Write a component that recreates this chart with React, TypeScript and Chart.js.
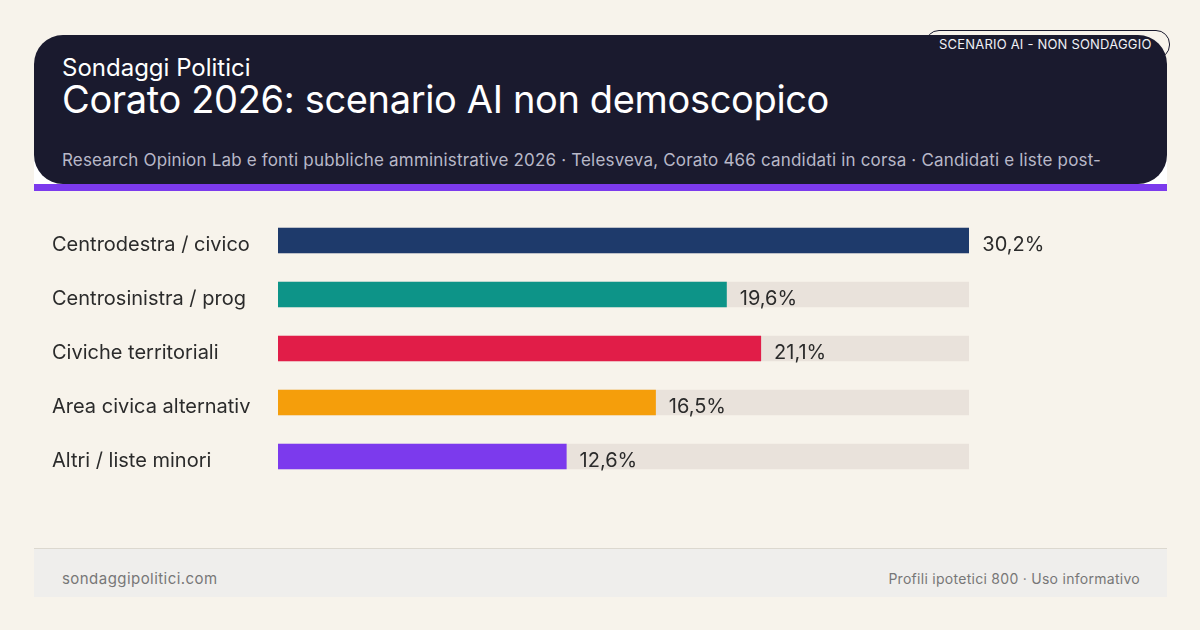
import { useEffect, useRef } from 'react';
import { Chart, registerables } from 'chart.js';
import type { CSSProperties } from 'react';

Chart.register(...registerables);

const categories = ['Centrodestra / civico', 'Centrosinistra / prog', 'Civiche territoriali', 'Area civica alternativ', 'Altri / liste minori'];
const values = [30.2, 19.6, 21.1, 16.5, 12.6];
const trackValues = [30.2, 30.2, 30.2, 30.2, 30.2];
const barColors = ['#1e3a6b', '#0d9488', '#e11d48', '#f59e0b', '#7c3aed'];

const FONT = 'Inter, sans-serif';

const text = (left: number, top: number, size: number, color: string, spacing = 0): CSSProperties => ({
  position: 'absolute',
  left,
  top,
  fontSize: size,
  lineHeight: 1,
  color,
  letterSpacing: spacing,
  whiteSpace: 'nowrap',
});

// value labels sit right after the end of each bar
const valueLabels = {
  id: 'valueLabels',
  afterDatasetsDraw(chart: Chart) {
    const { ctx } = chart;
    const meta = chart.getDatasetMeta(1);
    ctx.save();
    ctx.font = `20px ${FONT}`;
    ctx.fillStyle = '#2b2b2b';
    ctx.textAlign = 'left';
    ctx.textBaseline = 'middle';
    meta.data.forEach((bar, i) => {
      ctx.fillText(values[i].toFixed(1).replace('.', ',') + '%', bar.x + 13.3, bar.y + 4.5);
    });
    ctx.restore();
  },
};

export default function App() {
  const canvasRef = useRef<HTMLCanvasElement>(null);

  useEffect(() => {
    if (!canvasRef.current) return;
    const chart = new Chart(canvasRef.current, {
      type: 'bar',
      data: {
        labels: categories,
        datasets: [
          { data: trackValues, backgroundColor: '#e9e2db', order: 2 },
          { data: values, backgroundColor: barColors, order: 1 },
        ],
      },
      options: {
        indexAxis: 'y',
        responsive: false,
        animation: false,
        layout: { padding: { top: 213.5, bottom: 146.5, right: 231, left: 52 } },
        plugins: { legend: { display: false }, tooltip: { enabled: false } },
        datasets: { bar: { grouped: false, barThickness: 25 } },
        scales: {
          x: { display: false, min: 0, max: 30.2 },
          y: {
            afterFit(scale) {
              scale.width = 226;
            },
            border: { display: false },
            grid: { display: false },
            ticks: {
              crossAlign: 'far',
              align: 'center',
              padding: 0,
              labelOffset: 4.5,
              color: '#2b2b2b',
              font: { family: FONT, size: 20 },
            },
          },
        },
      },
      plugins: [valueLabels],
    });
    return () => chart.destroy();
  }, []);

  return (
    <div style={{ position: 'fixed', inset: 0, width: 1200, height: 630, background: '#f7f3eb', fontFamily: FONT, overflow: 'hidden' }}>
      <div style={{ position: 'absolute', left: 34, top: 130, width: 1133, height: 54, background: '#ffffff' }} />
      <div style={{ position: 'absolute', left: 34, top: 35, width: 1133, height: 149, background: '#1a1a2e', borderRadius: 29 }} />
      <div style={{ position: 'absolute', left: 34, top: 184, width: 1133, height: 7, background: '#7c3aed' }} />
      <div style={{ position: 'absolute', left: 925, top: 30, width: 245, height: 29, boxSizing: 'border-box', border: '1px solid #1a1a2e', borderRadius: 14 }} />
      <div style={text(939, 38, 13, '#f0f0f5', 0.2)}>SCENARIO AI - NON SONDAGGIO</div>
      <div style={text(62, 56, 24, '#ffffff')}>Sondaggi Politici</div>
      <div style={text(62, 80, 38, '#ffffff', -0.35)}>Corato 2026: scenario AI non demoscopico</div>
      <div style={text(62, 152, 17, '#b8b8c8', 0.18)}>Research Opinion Lab e fonti pubbliche amministrative 2026 · Telesveva, Corato 466 candidati in corsa · Candidati e liste post-</div>
      <canvas ref={canvasRef} width={1200} height={630} style={{ position: 'absolute', left: 0, top: 0, width: 1200, height: 630 }} />
      <div style={{ position: 'absolute', left: 34, top: 548, width: 1133, height: 49, boxSizing: 'border-box', background: '#efeeec', borderTop: '1px solid #dcd8cf' }} />
      <div style={text(62, 571, 15, '#777777', 0.45)}>sondaggipolitici.com</div>
      <div style={{ ...text(0, 572, 14, '#777777', 0.28), left: 'auto', right: 60 }}>Profili ipotetici 800 · Uso informativo</div>
    </div>
  );
}
